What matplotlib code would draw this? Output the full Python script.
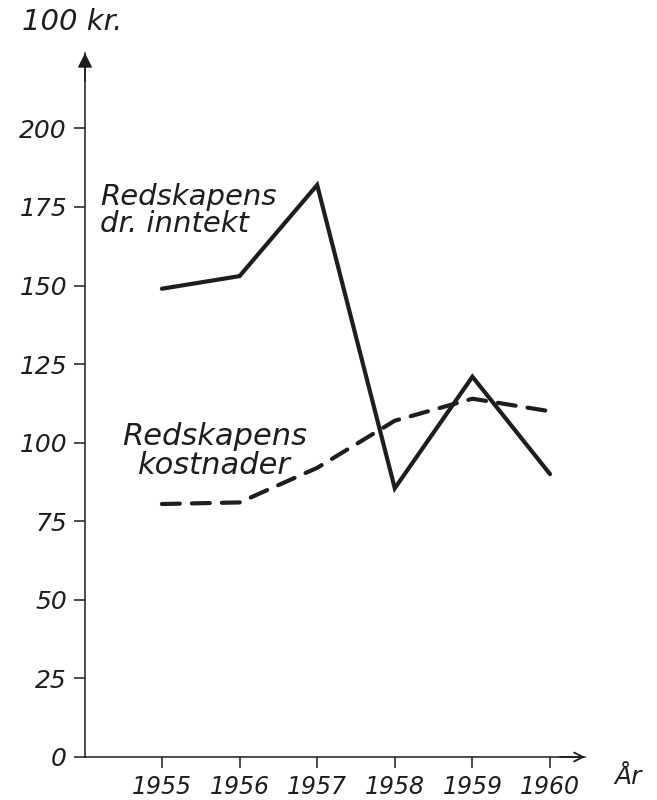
import matplotlib.pyplot as plt
import numpy as np

# Values (100 kr.)
years = [1955, 1956, 1957, 1958, 1959, 1960]
inntekt = [149, 153, 182, 85.5, 121, 90]
kostnader = [80.5, 81, 92, 107, 114, 110]
y_ticks = [0, 25, 50, 75, 100, 125, 150, 175, 200]

ink = '#1e1e1e'
hand = dict(family='DejaVu Sans', style='oblique', color=ink)

fig = plt.figure(figsize=(6.57, 8), dpi=100)
ax = fig.add_axes([0.1294, 0.05375, 0.761, 0.88])

# solid line: income, dashed line: costs
ax.plot(years, inntekt, color=ink, lw=3, solid_joinstyle='miter',
        solid_capstyle='round')
ax.plot(years, kostnader, color=ink, lw=3, dashes=(4.3, 2.9),
        dash_capstyle='round')

ax.set_xlim(1954.01, 1960.45)
ax.set_ylim(0, 224)

for side in ['top', 'right']:
    ax.spines[side].set_visible(False)
for side in ['left', 'bottom']:
    ax.spines[side].set_linewidth(1.1)
    ax.spines[side].set_color(ink)

ax.set_yticks(y_ticks)
ax.set_yticklabels([str(v) for v in y_ticks], fontsize=18, **hand)
ax.set_xticks(years)
ax.set_xticklabels([str(y) for y in years], fontsize=17, **hand)
ax.tick_params(axis='both', direction='out', length=8, width=1.1,
               color=ink, pad=5)

# arrow heads on the axes
ax.annotate('', xy=(0, 1.0), xycoords='axes fraction', xytext=(0, 0.96),
            arrowprops=dict(arrowstyle='-|>', color=ink, lw=1.1,
                            mutation_scale=22, shrinkA=0, shrinkB=0))
ax.annotate('', xy=(1.0, 0), xycoords='axes fraction', xytext=(0.95, 0),
            arrowprops=dict(arrowstyle='->', color=ink, lw=1.3,
                            mutation_scale=16, shrinkA=0, shrinkB=0))

# line labels
ax.text(1954.2, 174, 'Redskapens\ndr. inntekt', fontsize=21, ha='left',
        va='center', linespacing=0.95, **hand)
ax.text(1955.68, 97.5, 'Redskapens\nkostnader', fontsize=22, ha='center',
        va='center', linespacing=1.0, **hand)

# axis units
fig.text(0.110, 0.9725, '100 kr.', fontsize=21, ha='center', va='center', **hand)
fig.text(0.956, 0.029, 'År', fontsize=18, ha='center', va='center', **hand)

fig.savefig('out.png', dpi=100, facecolor='white')
